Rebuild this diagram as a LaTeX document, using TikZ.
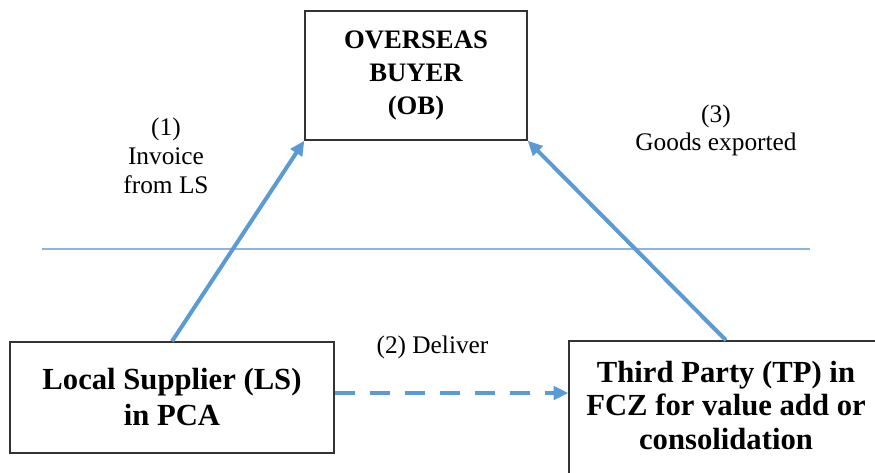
\documentclass[tikz,border=0pt]{standalone}
\usepackage{fontspec}
\setmainfont{Liberation Serif}
\usetikzlibrary{arrows.meta}
\definecolor{arrblue}{HTML}{5B9BD5}
\definecolor{lineblue}{HTML}{8DB4E2}
\definecolor{boxline}{HTML}{333333}
\tikzset{
  box/.style={draw=boxline, line width=1pt, inner sep=0pt, align=center, font=\bfseries},
  lbl/.style={inner sep=0pt, align=center, font=\fontsize{19}{21.75}\selectfont},
  bluearrow/.style={draw=arrblue, line width=3pt, -{Triangle[length=11pt,width=10pt]}},
  dasharrow/.style={draw=arrblue, line width=3pt, dash pattern=on 15pt off 11.25pt, -{Triangle[length=11pt,width=10pt]}},
  hline/.style={draw=lineblue, line width=1pt}
}
\begin{document}
\begin{tikzpicture}[x=0.75pt,y=-0.75pt]
\useasboundingbox (0,0) rectangle (875,472);
\clip (0,0) rectangle (875,472);
\fill[white] (0,0) rectangle (875,472);

% separator line
\coordinate (hl) at (42,249);
\coordinate (hr) at (810,249);
\draw[hline] (hl) -- (hr);

% boxes
\node[box, minimum width=166.5pt, minimum height=96.75pt, font=\bfseries\fontsize{20}{24.75}\selectfont] (ob) at (416,75.5) {OVERSEAS\\BUYER\\(OB)};
\node[box, minimum width=243pt, minimum height=83.25pt, font=\bfseries\fontsize{23}{27}\selectfont] (ls) at (172,397.5) {Local Supplier (LS)\\in PCA};
\node[box, minimum width=235.5pt, minimum height=106.5pt, font=\bfseries\fontsize{23}{25}\selectfont] (tp) at (726,412) {Third Party (TP) in\\FCZ for value add or\\consolidation\rule[-10pt]{0pt}{10pt}};

% labels
\node[lbl, anchor=north] (l1) at (166,118) {(1)\\Invoice\\from LS};
\node[lbl, anchor=north, font=\fontsize{19}{21}\selectfont] (l3) at (716,105) {(3)\\Goods exported};
\node[lbl, anchor=base] (l2) at (432.5,353) {(2) Deliver};

% connectors
\draw[bluearrow] (ls.north) -- (ob.south west);
\draw[bluearrow] (tp.north) -- (ob.south east);
\coordinate (dl) at (450,393);
\draw[dasharrow] (ls.east |- dl) -- (tp.west |- dl);
\end{tikzpicture}
\end{document}
